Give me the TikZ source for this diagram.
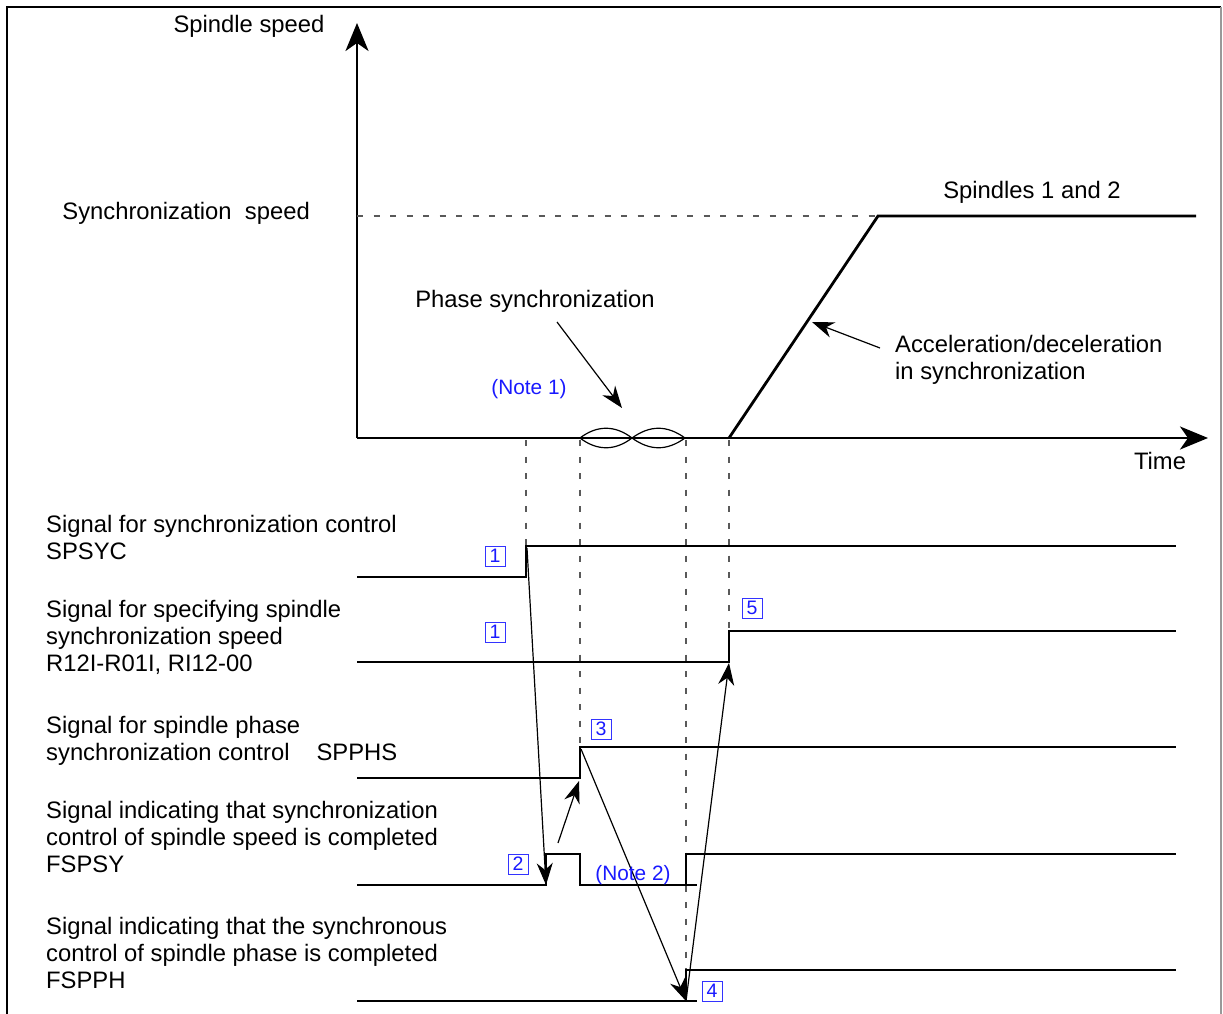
\documentclass[tikz,border=0pt]{standalone}
\usepackage{fontspec}
\setmainfont{Liberation Sans}
\usetikzlibrary{arrows.meta}

\begin{document}
\begin{tikzpicture}[
    x=1pt, y=-1pt,
    font=\fontsize{23.8}{27}\selectfont,
    sig/.style={line width=2.8pt},
    guide/.style={line width=1.2pt, black!65, dash pattern=on 6pt off 10.5pt},
    axis/.style={line width=2.8pt, -{Stealth[length=28pt, width=23pt, inset=8pt]}},
    arr/.style={line width=1.2pt, -{Stealth[length=22pt, width=16pt, inset=7pt]}},
    lbl/.style={anchor=base west, align=left, inner sep=0pt},
    txt/.style={anchor=base, inner sep=0pt},
    note/.style={anchor=base, inner sep=0pt, text=blue!90!white, font=\fontsize{20.8}{24}\selectfont},
    num/.style={draw=blue!80!white, text=blue!90!white, line width=0.8pt, minimum size=20pt,
                inner sep=0pt, font=\fontsize{19.5}{19.5}\selectfont}
]
\useasboundingbox (0,0) rectangle (1223,1014);

% ---- Frame ----
\draw[line width=1.2pt] (7,1014) -- (7,7) -- (1221,7);
\draw[line width=1.2pt, black!40] (1221,7) -- (1221,1014);

% ---- Axes ----
\coordinate (origin) at (357,438);
\coordinate (ytip) at (357,23);
\coordinate (xtip) at (1208,438);
\draw[axis] (origin) -- (ytip);
\draw[axis] (origin) -- (xtip);
\node[txt] (ylabel) at (249,33) {Spindle speed};
\node[txt] (xlabel) at (1160,469) {Time};

% ---- Speed profile ----
\coordinate (ramp0) at (729,438);
\coordinate (ramp1) at (878,216);
\draw[guide] (357,216) -- (ramp1);
\draw[sig] (ramp0) -- (ramp1) -- (1196,216);
\node[anchor=base east, inner sep=0pt] (syncspeed) at (310,219) {Synchronization\ \ speed};
\node[txt] (spindles) at (1032,198) {Spindles 1 and 2};

% phase synchronization ripple
\draw[line width=1.2pt] (580,438) .. controls (597,425) and (615,425) .. (632,438)
    .. controls (650,425) and (667,425) .. (685,438);
\draw[line width=1.2pt] (580,438) .. controls (597,451) and (615,451) .. (632,438)
    .. controls (650,451) and (667,451) .. (685,438);

\node[txt] (phase) at (535,307) {Phase synchronization};
\coordinate (phasetip) at (622,408);
\draw[arr] (557,322) -- (phasetip);
\node[note] (note1) at (529,394) {(Note 1)};

\node[lbl] (accel) at (895,379) {Acceleration/deceleration\\in synchronization};
\coordinate (acceltail) at (880,348);
\coordinate (acceltip) at (812,322);
\draw[arr] (acceltail) -- (acceltip);

% ---- Timing guides ----
\draw[guide] (526,440) -- (526,546);
\draw[guide] (580,440) -- (580,747);
\draw[guide] (686,440) -- (686,970);
\draw[guide] (729,440) -- (729,631);

% ---- Signals ----
\node[lbl] (spsyc) at (46,559) {Signal for synchronization control\\SPSYC};
\draw[sig] (357,577) -- (526,577) |- (1176,546);
\coordinate (spsycup) at (527,548);

\node[lbl] (rsync) at (46,671) {Signal for specifying spindle\\synchronization speed\\R12I-R01I, RI12-00};
\draw[sig] (357,662) -- (729,662) |- (1176,631);
\coordinate (rsyncup) at (729,663);

\node[lbl] (spphs) at (46,760) {Signal for spindle phase\\synchronization control\hspace{27pt}SPPHS};
\draw[sig] (357,778) -- (580,778) |- (1176,747);
\coordinate (spphslow) at (579,781);
\coordinate (spphsup) at (581,749);

\node[lbl] (fspsy) at (46,872) {Signal indicating that synchronization\\control of spindle speed is completed\\FSPSY};
\draw[sig] (357,885) -- (546,885) |- (580,854) |- (697,885);
\draw[sig] (686,885) |- (1176,854);
\coordinate (fspsylow) at (546,885);
\coordinate (fspsytail) at (558,843);

\node[lbl] (fspph) at (46,988) {Signal indicating that the synchronous\\control of spindle phase is completed\\FSPPH};
\draw[sig] (357,1001) -- (697,1001);
\draw[sig] (686,1001) |- (1176,970);
\coordinate (fspphlow) at (686,1001);

% ---- Sequence ----
\draw[arr] (spsycup) -- (fspsylow);
\draw[arr] (fspsytail) -- (spphslow);
\draw[arr] (spphsup) -- (fspphlow);
\draw[arr] (fspphlow) -- (rsyncup);

\node[num] (n1a) at (495,556) {1};
\node[num] (n1b) at (495,632) {1};
\node[num] (n2) at (518,864) {2};
\node[num] (n3) at (601,729) {3};
\node[num] (n4) at (712,991) {4};
\node[num] (n5) at (752,608) {5};
\node[note] (note2) at (633,880) {(Note 2)};

\end{tikzpicture}
\end{document}
